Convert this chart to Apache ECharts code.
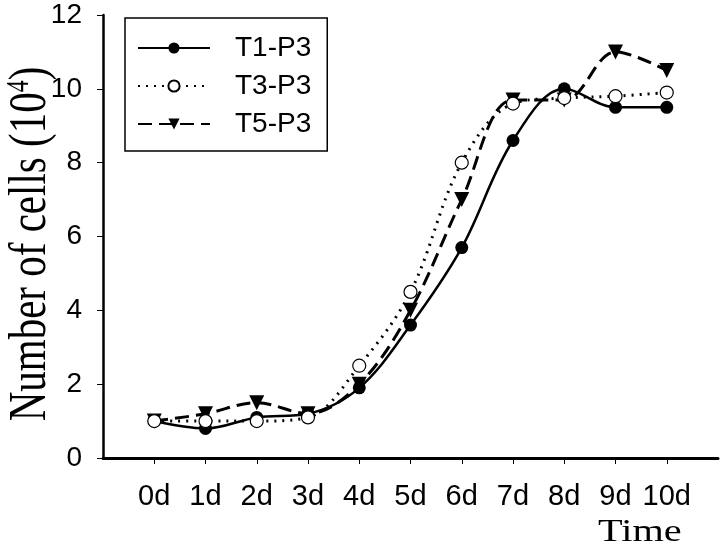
<!DOCTYPE html>
<html>
<head>
<meta charset="utf-8">
<script src="https://cdn.jsdelivr.net/npm/echarts@6/dist/echarts.min.js"></script>
<style>
  html, body { margin: 0; padding: 0; background: #fff; }
  #main { width: 723px; height: 552px; }
</style>
</head>
<body>
<div id="main"></div>
<script>
// categories (days) and series values
const days = ['0d', '1d', '2d', '3d', '4d', '5d', '6d', '7d', '8d', '9d', '10d'];
const t1p3 = [1.0, 0.8, 1.1, 1.2, 1.9, 3.6, 5.7, 8.6, 10.0, 9.5, 9.5];
const t3p3 = [1.0, 1.0, 1.0, 1.1, 2.5, 4.5, 8.0, 9.6, 9.75, 9.8, 9.9];
const t5p3 = [1.0, 1.2, 1.5, 1.2, 2.0, 4.0, 7.0, 9.7, 9.7, 11.0, 10.5];
const yTicks = [0, 2, 4, 6, 8, 10, 12];

const chartDom = document.getElementById('main');
const myChart = echarts.init(chartDom);

const toPoints = arr => arr.map((v, i) => [i, v]);
const dayIdx = days.map((d, i) => i);
const serif = 'Liberation Serif, Times New Roman';

const option = {
    animation: false,
    backgroundColor: '#fff',
    grid: { left: 103, top: 15, right: 5, bottom: 94, containLabel: false, outerBoundsMode: 'none' },
    legend: {
        orient: 'vertical',
        left: 125,
        top: 18,
        padding: [16, 16, 13, 12],
        itemWidth: 72,
        itemHeight: 14,
        itemGap: 10,
        borderColor: '#000',
        borderWidth: 1.5,
        textStyle: { fontFamily: 'Liberation Sans, Arial', fontSize: 28, color: '#000', padding: [0, 0, 0, 20] },
        data: ['T1-P3', 'T3-P3', 'T5-P3']
    },
    xAxis: {
        type: 'value',
        min: -1,
        max: 11,
        interval: 1,
        splitLine: { show: false },
        axisLine: { lineStyle: { color: '#000', width: 3 } },
        axisTick: { customValues: dayIdx, length: 6, lineStyle: { color: '#000', width: 1 } },
        axisLabel: {
            customValues: dayIdx,
            formatter: v => days[v] || '',
            margin: 24,
            fontFamily: 'Liberation Sans, Arial',
            fontSize: 29,
            color: '#000'
        }
    },
    yAxis: {
        type: 'value',
        min: 0,
        max: 12,
        interval: 2,
        splitLine: { show: false },
        axisLine: { show: true, onZero: false, lineStyle: { color: '#000', width: 2.5 } },
        axisTick: { show: true, length: 6, lineStyle: { color: '#000', width: 1 } },
        axisLabel: {
            formatter: v => yTicks.includes(v) ? String(v) : '',
            margin: 21,
            fontFamily: 'Liberation Sans, Arial',
            fontSize: 28,
            color: '#000'
        }
    },
    graphic: [
        {
            // y axis title, stretched like the original figure
            type: 'text',
            x: 31,
            y: 244,
            rotation: Math.PI / 2,
            scaleY: 1.3,
            style: {
                text: '{a|Number of cells (10}{b|4}{a|)}',
                align: 'center',
                verticalAlign: 'middle',
                rich: {
                    a: { fontFamily: serif, fontSize: 41, fill: '#000' },
                    b: { fontFamily: serif, fontSize: 24, fill: '#000', verticalAlign: 'top', padding: [0, 0, 14, 0] }
                }
            }
        },
        {
            type: 'text',
            x: 598,
            y: 548,
            scaleX: 1.3,
            style: { text: 'Time', fontFamily: serif, fontSize: 31, fill: '#000', verticalAlign: 'bottom' }
        }
    ],
    series: [
        {
            name: 'T1-P3',
            type: 'line',
            smooth: 0.35,
            data: toPoints(t1p3),
            symbol: 'circle',
            symbolSize: 13,
            itemStyle: { color: '#000' },
            lineStyle: { color: '#000', width: 2.5, type: 'solid' },
            z: 3
        },
        {
            name: 'T3-P3',
            type: 'line',
            smooth: 0.35,
            data: toPoints(t3p3),
            symbol: 'circle',
            symbolSize: 13,
            itemStyle: { color: '#fff', borderColor: '#000', borderWidth: 1.2 },
            lineStyle: { color: '#000', width: 3, type: [2, 6] },
            z: 4
        },
        {
            name: 'T5-P3',
            type: 'line',
            smooth: 0.35,
            data: toPoints(t5p3),
            symbol: 'triangle',
            symbolRotate: 180,
            symbolSize: 15,
            itemStyle: { color: '#000' },
            lineStyle: { color: '#000', width: 3, type: [14, 7] },
            z: 2
        }
    ]
};

option && myChart.setOption(option);
</script>
</body>
</html>
